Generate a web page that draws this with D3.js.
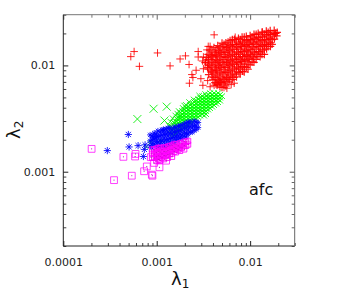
<!DOCTYPE html>
<html>
<head>
<meta charset="utf-8">
<script src="https://cdn.jsdelivr.net/npm/d3@7"></script>
<style>
  body { margin: 0; background: #fff; }
  svg { display: block; font-family: "DejaVu Sans", sans-serif; }
</style>
</head>
<body>
<div id="chart"></div>
<script>
// --- data (lambda1, lambda2) ---
// pairs are [lambda1, lambda2]; "columns" are [lambda1, [lambda2, ...]]
const redCore = [
  [0.0034,0.0119],[0.0033,0.0106],[0.0035,0.0096],
  [0.0037,0.0139],[0.0038,0.0124],[0.0036,0.0112],[0.0037,0.0100],[0.0038,0.0089],[0.0036,0.0082],
  [0.0041,0.0147],[0.0042,0.0131],[0.0040,0.0118],[0.0041,0.0106],[0.0042,0.0095],[0.0040,0.0085],[0.0041,0.0077],[0.0042,0.0069],
  [0.0045,0.0154],[0.0046,0.0138],[0.0044,0.0124],[0.0045,0.0111],[0.0046,0.0100],[0.0044,0.0090],[0.0045,0.0081],[0.0046,0.0072],[0.0045,0.0066],
  [0.0050,0.0162],[0.0051,0.0146],[0.0049,0.0131],[0.0050,0.0118],[0.0051,0.0106],[0.0049,0.0095],[0.0050,0.0085],[0.0051,0.0076],[0.0049,0.0069],[0.0050,0.0062],
  [0.0055,0.0163],[0.0056,0.0147],[0.0054,0.0132],[0.0055,0.0119],[0.0056,0.0107],[0.0054,0.0096],[0.0055,0.0086],[0.0056,0.0077],[0.0054,0.0070],[0.0055,0.0064],
  [0.0061,0.0171],[0.0062,0.0154],[0.0060,0.0138],[0.0061,0.0124],[0.0062,0.0111],[0.0060,0.0100],[0.0061,0.0090],[0.0062,0.0081],[0.0060,0.0073],
  [0.0068,0.0176],[0.0069,0.0158],[0.0067,0.0142],[0.0068,0.0128],[0.0069,0.0115],[0.0067,0.0103],[0.0068,0.0093],[0.0069,0.0083],[0.0067,0.0077],
  [0.0075,0.0180],[0.0076,0.0162],[0.0074,0.0146],[0.0075,0.0131],[0.0076,0.0118],[0.0074,0.0106],[0.0075,0.0095],[0.0076,0.0086],
  [0.0082,0.0185],[0.0083,0.0166],[0.0081,0.0150],[0.0082,0.0135],[0.0083,0.0121],[0.0081,0.0109],[0.0082,0.0098],[0.0083,0.0088],
  [0.0091,0.0188],[0.0092,0.0171],[0.0090,0.0154],[0.0091,0.0138],[0.0092,0.0124],[0.0090,0.0111],[0.0091,0.0096],
  [0.0100,0.0191],[0.0101,0.0175],[0.0099,0.0158],[0.0100,0.0142],[0.0101,0.0128],[0.0099,0.0115],[0.0100,0.0101],
  [0.0110,0.0196],[0.0111,0.0180],[0.0109,0.0162],[0.0110,0.0146],[0.0111,0.0131],[0.0109,0.0118],[0.0110,0.0107],
  [0.0122,0.0201],[0.0123,0.0183],[0.0121,0.0166],[0.0122,0.0150],[0.0123,0.0135],[0.0121,0.0122],
  [0.0135,0.0206],[0.0136,0.0188],[0.0134,0.0171],[0.0135,0.0154],[0.0136,0.0139],[0.0134,0.0127],
  [0.0149,0.0210],[0.0150,0.0193],[0.0148,0.0175],[0.0149,0.0158],[0.0150,0.0143],
  [0.0164,0.0213],[0.0165,0.0196],[0.0163,0.0180],[0.0164,0.0163],[0.0165,0.0151],
  [0.0181,0.0214],[0.0180,0.0198],[0.0182,0.0177],
  [0.0195,0.0205],[0.0193,0.0190]
];
const redFillColumns = [
  [0.00355, [0.0127,0.0114,0.0103,0.0092]],
  [0.0039,  [0.0134,0.0121,0.0108,0.0097,0.0087,0.0078]],
  [0.0043,  [0.0142,0.0127,0.0114,0.0103,0.0092,0.0083,0.0074,0.0067]],
  [0.00475, [0.0150,0.0134,0.0121,0.0108,0.0097,0.0087,0.0078,0.0070,0.0063]],
  [0.00525, [0.0158,0.0142,0.0127,0.0114,0.0103,0.0092,0.0083,0.0074,0.0067]],
  [0.0058,  [0.0166,0.0150,0.0134,0.0121,0.0108,0.0097,0.0087,0.0078,0.0070]],
  [0.00645, [0.0175,0.0158,0.0142,0.0127,0.0114,0.0103,0.0092,0.0083,0.0074]],
  [0.00715, [0.0166,0.0150,0.0134,0.0121,0.0108,0.0097,0.0087,0.0078]],
  [0.00785, [0.0175,0.0158,0.0142,0.0127,0.0114,0.0103,0.0092,0.0083]],
  [0.00865, [0.0185,0.0166,0.0150,0.0134,0.0121,0.0108,0.0097,0.0087]],
  [0.0095,  [0.0175,0.0158,0.0142,0.0127,0.0114,0.0103,0.0092]],
  [0.0105,  [0.0185,0.0166,0.0150,0.0134,0.0121,0.0108]],
  [0.0116,  [0.0196,0.0175,0.0158,0.0142,0.0127,0.0114]],
  [0.0128,  [0.0185,0.0166,0.0150,0.0134,0.0121]],
  [0.0142,  [0.0196,0.0175,0.0158,0.0142,0.0127]],
  [0.0156,  [0.0205,0.0185,0.0166,0.0150]],
  [0.0172,  [0.0196,0.0175,0.0158]],
  [0.0188,  [0.0200]]
];
const redSparse = [
  [0.00412,0.0194],[0.000573,0.0135],[0.000528,0.0121],[0.000653,0.0098],[0.00102,0.0131],
  [0.00139,0.0099],[0.00178,0.0115],[0.00203,0.0123],[0.00222,0.0102],[0.00278,0.0135],
  [0.00278,0.0120],[0.00356,0.0151],[0.00264,0.0090],[0.00238,0.0082],[0.00244,0.0077],
  [0.00224,0.0068],[0.00312,0.0065],[0.00297,0.0075],[0.00333,0.0107],[0.00316,0.0093],
  [0.00373,0.0063],[0.00441,0.0065],[0.00564,0.0061],[0.00627,0.0066],[0.00478,0.0069],
  [0.00399,0.0074],[0.00351,0.0072],[0.00692,0.0184],[0.0134,0.0205],[0.0186,0.0200],
  [0.00316,0.0120],[0.00373,0.0151],[0.00345,0.0140],[0.00310,0.0110],[0.00412,0.0065],
  [0.00525,0.0062],[0.00675,0.0068]
];
const greenColumns = [
  [0.00146, [0.00258,0.00244,0.00229,0.00215]],
  [0.00154, [0.00287,0.00269,0.00252,0.00236,0.00222]],
  [0.00162, [0.00316,0.00296,0.00278,0.00261,0.00244,0.00229]],
  [0.00170, [0.00327,0.00306,0.00287,0.00269,0.00252,0.00236]],
  [0.00178, [0.00360,0.00337,0.00316,0.00296,0.00278,0.00261,0.00244]],
  [0.00187, [0.00372,0.00348,0.00327,0.00306,0.00287,0.00269,0.00252]],
  [0.00197, [0.00384,0.00360,0.00337,0.00316,0.00296,0.00278,0.00261]],
  [0.00207, [0.00396,0.00372,0.00348,0.00327,0.00306,0.00287,0.00269]],
  [0.00217, [0.00409,0.00384,0.00360,0.00337,0.00316,0.00296,0.00278]],
  [0.00228, [0.00423,0.00396,0.00372,0.00348,0.00327,0.00306,0.00287]],
  [0.00240, [0.00437,0.00409,0.00384,0.00360,0.00337,0.00316,0.00296]],
  [0.00252, [0.00451,0.00423,0.00396,0.00372,0.00348,0.00327,0.00306]],
  [0.00264, [0.00466,0.00437,0.00409,0.00384,0.00360,0.00337,0.00316]],
  [0.00278, [0.00481,0.00451,0.00423,0.00396,0.00372,0.00348,0.00327]],
  [0.00292, [0.00497,0.00466,0.00437,0.00409,0.00384,0.00360,0.00337]],
  [0.00307, [0.00513,0.00481,0.00451,0.00423,0.00396,0.00372,0.00348]],
  [0.00322, [0.00497,0.00466,0.00437,0.00409,0.00384,0.00360,0.00337]],
  [0.00338, [0.00513,0.00481,0.00451,0.00423,0.00396,0.00372,0.00348]],
  [0.00356, [0.00530,0.00497,0.00466,0.00437,0.00409,0.00384]],
  [0.00373, [0.00548,0.00513,0.00481,0.00451,0.00423,0.00396]],
  [0.00393, [0.00530,0.00497,0.00466,0.00437,0.00409]],
  [0.00412, [0.00548,0.00513,0.00481,0.00451,0.00423]],
  [0.00433, [0.00530,0.00497,0.00466,0.00437]],
  [0.00455, [0.00548,0.00513,0.00481,0.00451]],
  [0.00478, [0.00530,0.00497,0.00466]],
  [0.00502, [0.00513]]
];
// looser green marks along the upper-left edge of the cluster
const greenEdge = [
  [0.00140,0.00296],[0.00148,0.00318],[0.00152,0.00290],[0.00158,0.00338],[0.00166,0.00352],
  [0.00172,0.00372],[0.00190,0.00398],[0.00205,0.00425],[0.00222,0.00452],[0.00248,0.00478],
  [0.00285,0.00520],[0.00330,0.00538],[0.00135,0.00272]
];
const greenSparse = [
  [0.000621,0.00313],[0.000926,0.00391],[0.00128,0.00409],[0.00121,0.00303],[0.00149,0.00259],
  [0.00178,0.00329],[0.00203,0.00408]
];
const greenSmall = [
  [0.00077,0.00172],[0.00085,0.00187],[0.00109,0.00195],[0.00132,0.00237]
];
const blueCore = [
  [0.00085,0.00222],[0.00085,0.00195],[0.00085,0.00175],
  [0.00094,0.00231],[0.00094,0.00203],[0.00094,0.00182],
  [0.00103,0.00242],[0.00103,0.00215],[0.00103,0.00190],[0.00103,0.00172],
  [0.00114,0.00247],[0.00114,0.00220],[0.00114,0.00195],[0.00114,0.00172],
  [0.00126,0.00252],[0.00126,0.00225],[0.00126,0.00200],[0.00126,0.00178],
  [0.00139,0.00257],[0.00139,0.00230],[0.00139,0.00205],[0.00139,0.00185],
  [0.00154,0.00263],[0.00154,0.00236],[0.00154,0.00210],[0.00154,0.00190],
  [0.00170,0.00269],[0.00170,0.00242],[0.00170,0.00216],[0.00170,0.00198],
  [0.00187,0.00275],[0.00187,0.00248],[0.00187,0.00222],[0.00187,0.00205],
  [0.00207,0.00287],[0.00207,0.00258],[0.00207,0.00230],[0.00207,0.00212],
  [0.00228,0.00295],[0.00228,0.00265],[0.00228,0.00236],
  [0.00252,0.00300],[0.00252,0.00270],[0.00252,0.00245],
  [0.00278,0.00290],[0.00278,0.00260]
];
const blueFillColumns = [
  [0.000893, [0.00217,0.00199,0.00183]],
  [0.000986, [0.00226,0.00208,0.00191,0.00175]],
  [0.00109,  [0.00236,0.00217,0.00199,0.00183]],
  [0.00120,  [0.00247,0.00226,0.00208,0.00191,0.00175]],
  [0.00132,  [0.00258,0.00236,0.00217,0.00199,0.00183]],
  [0.00146,  [0.00247,0.00226,0.00208,0.00191]],
  [0.00161,  [0.00258,0.00236,0.00217,0.00199]],
  [0.00178,  [0.00269,0.00247,0.00226,0.00208]],
  [0.00197,  [0.00281,0.00258,0.00236,0.00217]],
  [0.00217,  [0.00293,0.00269,0.00247,0.00226]],
  [0.00240,  [0.00281,0.00258,0.00236]],
  [0.00264,  [0.00293,0.00269,0.00250]]
];
const blueSparse = [
  [0.000497,0.00224],[0.000296,0.00158],[0.000506,0.00171],[0.000632,0.00176],[0.000738,0.00162],
  [0.000886,0.00168],[0.00072,0.00139],[0.000922,0.00211],[0.00100,0.00214],[0.00118,0.00247],
  [0.000751,0.00179]
];
const magentaCore = [
  [0.00089,0.00162],[0.00089,0.00148],[0.00089,0.00135],
  [0.00099,0.00165],[0.00099,0.00151],[0.00099,0.00138],[0.00099,0.00126],
  [0.00109,0.00168],[0.00109,0.00153],[0.00109,0.00140],[0.00109,0.00128],
  [0.00120,0.00170],[0.00120,0.00155],[0.00120,0.00142],[0.00120,0.00131],
  [0.00132,0.00173],[0.00132,0.00158],[0.00132,0.00145],[0.00132,0.00135],
  [0.00146,0.00177],[0.00146,0.00162],[0.00146,0.00148],[0.00146,0.00138],
  [0.00161,0.00181],[0.00161,0.00166],[0.00161,0.00152],
  [0.00178,0.00186],[0.00178,0.00170],[0.00178,0.00157],
  [0.00197,0.00192],[0.00197,0.00176],[0.00197,0.00162],
  [0.00217,0.00195],[0.00217,0.00180]
];
const magentaFillColumns = [
  [0.000938, [0.00161,0.00147,0.00135]],
  [0.00104,  [0.00168,0.00154,0.00141,0.00130]],
  [0.00114,  [0.00161,0.00147,0.00135]],
  [0.00126,  [0.00168,0.00154,0.00141]],
  [0.00139,  [0.00175,0.00161,0.00147]],
  [0.00154,  [0.00183,0.00168,0.00154]],
  [0.00170,  [0.00175,0.00161]],
  [0.00187,  [0.00183,0.00168]],
  [0.00207,  [0.00191,0.00175]]
];
const magentaSparse = [
  [0.000201,0.00164],[0.000349,0.000833],[0.00044,0.00138],[0.000541,0.000917],[0.000587,0.00139],
  [0.000593,0.00147],[0.000733,0.00101],[0.000783,0.00112],[0.000886,0.000938],[0.00090,0.000917],
  [0.000938,0.00121],[0.00107,0.00110],[0.000864,0.00137],[0.00107,0.00129],[0.00126,0.00127],
  [0.00160,0.00166]
];

const xTicks = [1e-4, 1e-3, 1e-2];
const xTickLabels = ["0.0001", "0.001", "0.01"];
const yTicks = [1e-3, 1e-2];
const yTickLabels = ["0.001", "0.01"];
const xDomain = [1e-4, 3e-2];
const yDomain = [2e-4, 3e-2];
const annotation = "afc";

// --- layout ---
const width = 351, height = 300;
const plot = {left: 63.3, right: 294.7, top: 14.7, bottom: 246};

const svg = d3.select("#chart").append("svg")
  .attr("width", width)
  .attr("height", height);

const x = d3.scaleLog().domain(xDomain).range([plot.left, plot.right]);
const y = d3.scaleLog().domain(yDomain).range([plot.bottom, plot.top]);

const minorX = x.ticks().filter(t => xTicks.indexOf(t) < 0);
const minorY = y.ticks().filter(t => yTicks.indexOf(t) < 0);

const fromColumns = cols => cols.flatMap(c => c[1].map(v => [c[0], v]));

// marker path builders
function plusPath(r) { return `M${-r},0H${r}M0,${-r}V${r}`; }
function timesPath(r) { return `M${-r},${-r}L${r},${r}M${-r},${r}L${r},${-r}`; }
function starPath(r) {
  const d = r * 0.72;
  return plusPath(r) + `M${-d},${-d}L${d},${d}M${-d},${d}L${d},${-d}`;
}
function squarePath(r) { return `M${-r},${-r}H${r}V${r}H${-r}Z`; }

const marks = svg.append("g").attr("class", "marks");

function drawSeries(data, path, color, opacity, sw) {
  marks.append("g")
    .selectAll("path")
    .data(data)
    .enter().append("path")
    .attr("transform", d => `translate(${x(d[0])},${y(d[1])})`)
    .attr("d", path)
    .attr("fill", "none")
    .attr("stroke", color)
    .attr("stroke-width", sw || 1)
    .attr("opacity", opacity);
}

drawSeries(redCore.concat(fromColumns(redFillColumns)), plusPath(3.8), "#ff0000", 0.9, 1.2);
drawSeries(redSparse, plusPath(3.8), "#ff0000", 0.85);
drawSeries(fromColumns(greenColumns), timesPath(2.8), "#00ff00", 0.9, 1);
drawSeries(greenEdge, timesPath(2.8), "#00ee00", 0.8);
drawSeries(greenSmall, timesPath(2.2), "#00ee00", 0.8);
drawSeries(greenSparse, timesPath(4), "#00ee00", 0.85);
drawSeries(blueCore.concat(fromColumns(blueFillColumns)), starPath(3), "#0000ff", 0.85);
drawSeries(blueSparse, starPath(3.6), "#0000ff", 0.85);
const magentaAll = magentaCore.concat(fromColumns(magentaFillColumns));
drawSeries(magentaAll, squarePath(2.6), "#ff00ff", 0.85);
drawSeries(magentaSparse, squarePath(3.4), "#ff00ff", 0.75);

// center dots of the square markers
marks.append("g")
  .selectAll("rect")
  .data(magentaAll.concat(magentaSparse))
  .enter().append("rect")
  .attr("x", d => x(d[0]) - 0.5)
  .attr("y", d => y(d[1]) - 0.5)
  .attr("width", 1)
  .attr("height", 1)
  .attr("fill", "#c000c0");

// --- axes (ticks point inward, mirrored on top/right) ---
function styleAxis(g, color) {
  g.select(".domain").remove();
  g.selectAll(".tick line").attr("stroke", color);
  g.selectAll(".tick text")
    .attr("fill", "#222")
    .style("font-family", "DejaVu Sans, sans-serif")
    .style("font-size", "11px");
}

const bottomAxis = svg.append("g")
  .attr("transform", `translate(0,${plot.bottom})`)
  .call(d3.axisBottom(x).tickValues(xTicks)
    .tickFormat((d, i) => xTickLabels[i]).tickSizeInner(-5).tickPadding(12));
styleAxis(bottomAxis, "#222");

svg.append("g")
  .attr("transform", `translate(0,${plot.bottom})`)
  .call(d3.axisBottom(x).tickValues(minorX).tickFormat("").tickSizeInner(-3))
  .call(g => styleAxis(g, "#444"));

svg.append("g")
  .attr("transform", `translate(0,${plot.top})`)
  .call(d3.axisTop(x).tickValues(xTicks).tickFormat("").tickSizeInner(-5))
  .call(g => styleAxis(g, "#666"));
svg.append("g")
  .attr("transform", `translate(0,${plot.top})`)
  .call(d3.axisTop(x).tickValues(minorX).tickFormat("").tickSizeInner(-3))
  .call(g => styleAxis(g, "#777"));

const leftAxis = svg.append("g")
  .attr("transform", `translate(${plot.left},0)`)
  .call(d3.axisLeft(y).tickValues(yTicks)
    .tickFormat((d, i) => yTickLabels[i]).tickSizeInner(-5).tickPadding(8));
styleAxis(leftAxis, "#222");

svg.append("g")
  .attr("transform", `translate(${plot.left},0)`)
  .call(d3.axisLeft(y).tickValues(minorY).tickFormat("").tickSizeInner(-3))
  .call(g => styleAxis(g, "#444"));

svg.append("g")
  .attr("transform", `translate(${plot.right},0)`)
  .call(d3.axisRight(y).tickValues(yTicks).tickFormat("").tickSizeInner(-5))
  .call(g => styleAxis(g, "#555"));
svg.append("g")
  .attr("transform", `translate(${plot.right},0)`)
  .call(d3.axisRight(y).tickValues(minorY).tickFormat("").tickSizeInner(-3))
  .call(g => styleAxis(g, "#666"));

// frame
svg.append("line").attr("x1", plot.left).attr("x2", plot.left)
  .attr("y1", plot.top).attr("y2", plot.bottom).attr("stroke", "#222");
svg.append("line").attr("x1", plot.left).attr("x2", plot.right)
  .attr("y1", plot.bottom).attr("y2", plot.bottom).attr("stroke", "#222");
svg.append("line").attr("x1", plot.left).attr("x2", plot.right)
  .attr("y1", plot.top).attr("y2", plot.top).attr("stroke", "#777");
svg.append("line").attr("x1", plot.right).attr("x2", plot.right)
  .attr("y1", plot.top).attr("y2", plot.bottom).attr("stroke", "#666");

// axis titles
const xTitle = svg.append("text")
  .attr("x", 171)
  .attr("y", 285)
  .attr("fill", "#111")
  .style("font-size", "18px");
xTitle.append("tspan").text("λ");
xTitle.append("tspan").attr("dy", 3).style("font-size", "12px").text("1");

const yTitle = svg.append("text")
  .attr("transform", "translate(20,139) rotate(-90)")
  .attr("fill", "#111")
  .style("font-size", "18px");
yTitle.append("tspan").text("λ");
yTitle.append("tspan").attr("dy", 3).style("font-size", "12px").text("2");

svg.append("text")
  .attr("x", 249)
  .attr("y", 195)
  .attr("fill", "#111")
  .style("font-size", "16px")
  .text(annotation);
</script>
</body>
</html>
